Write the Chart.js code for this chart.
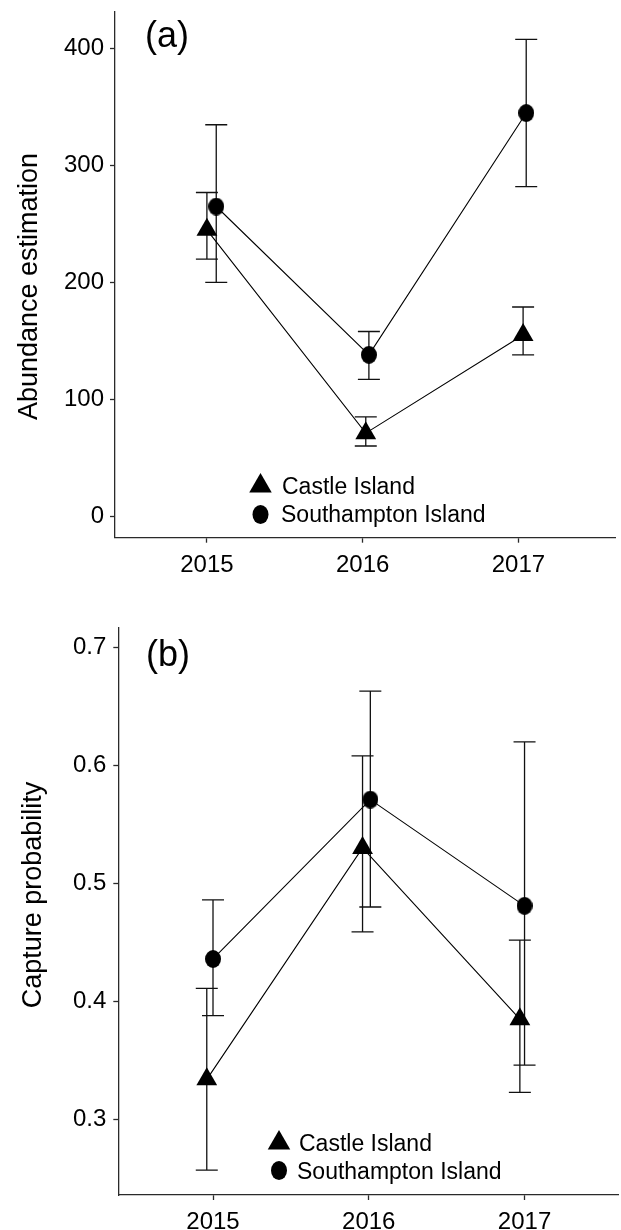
<!DOCTYPE html>
<html><head><meta charset="utf-8">
<script src="https://cdn.jsdelivr.net/npm/chart.js@4/dist/chart.umd.min.js"></script>
<style>
html,body{margin:0;padding:0;background:#fff;overflow:hidden;width:621px;height:1230px;position:relative;}
#wa{position:absolute;left:0;top:0;width:630px;height:600px;}
#wb{position:absolute;left:0;top:600px;width:630px;height:630px;}
</style></head><body>
<div id="wa"><canvas id="ca"></canvas></div>
<div id="wb"><canvas id="cb"></canvas></div>
<script>
// ---- data ----
const years = [2015, 2016, 2017];
const seriesNames = ['Castle Island', 'Southampton Island'];
// panel (a) abundance estimation (x = dodged year positions)
const castleAbundX = [2015.00, 2016.02, 2017.03];
const castleAbund = [245, 71, 155];
const castleAbundLow = [220, 60, 138];
const castleAbundHigh = [277, 85, 179];
const southAbundX = [2015.06, 2016.04, 2017.05];
const southAbund = [265, 138, 345];
const southAbundLow = [200, 117, 282];
const southAbundHigh = [335, 158, 408];
const abundTicks = [0, 100, 200, 300, 400];
// panel (b) capture probability
const castleCapX = [2014.96, 2015.96, 2016.97];
const castleCap = [0.334, 0.530, 0.385];
const castleCapLow = [0.257, 0.459, 0.323];
const castleCapHigh = [0.411, 0.608, 0.452];
const southCapX = [2015.00, 2016.01, 2017.00];
const southCap = [0.436, 0.571, 0.481];
const southCapLow = [0.388, 0.480, 0.346];
const southCapHigh = [0.486, 0.663, 0.620];
const capTicks = [0.3, 0.4, 0.5, 0.6, 0.7];

const FONT = "'Liberation Sans', Arial, sans-serif";
const AX = '#2a2a2a';

function ellipseImg(w, h) {
  const c = document.createElement('canvas');
  c.width = w; c.height = h;
  const g = c.getContext('2d');
  g.fillStyle = '#000';
  g.beginPath(); g.ellipse(w/2, h/2, w/2, h/2, 0, 0, Math.PI*2); g.fill();
  return c;
}
const dotImg = ellipseImg(16, 18);

function pts(xs, ys) { return xs.map((x, i) => ({x: x, y: ys[i]})); }

const errorBars = {
  id: 'errorBars',
  beforeDatasetsDraw(chart) {
    const {ctx, scales: {x, y}} = chart;
    ctx.save();
    ctx.strokeStyle = '#111'; ctx.lineWidth = 1.3;
    chart.data.datasets.forEach(ds => {
      ds.data.forEach((p, i) => {
        const px = x.getPixelForValue(p.x);
        const lo = y.getPixelForValue(ds.errLow[i]);
        const hi = y.getPixelForValue(ds.errHigh[i]);
        ctx.beginPath();
        ctx.moveTo(px, lo); ctx.lineTo(px, hi);
        ctx.moveTo(px - 11, lo); ctx.lineTo(px + 11, lo);
        ctx.moveTo(px - 11, hi); ctx.lineTo(px + 11, hi);
        ctx.stroke();
      });
    });
    ctx.restore();
  }
};

const deco = {
  id: 'deco',
  afterDraw(chart, args, o) {
    const ctx = chart.ctx;
    ctx.save();
    ctx.fillStyle = '#000';
    ctx.font = '36px ' + FONT;
    ctx.textAlign = 'left'; ctx.textBaseline = 'alphabetic';
    ctx.fillText(o.label, o.labelX, o.labelY);
    ctx.save();
    ctx.translate(o.titleX, o.titleY);
    ctx.rotate(-Math.PI/2);
    ctx.font = '27px ' + FONT;
    ctx.textAlign = 'center';
    ctx.fillText(o.title, 0, 0);
    ctx.restore();
    ctx.font = '23px ' + FONT;
    ctx.textAlign = 'left';
    chart.data.datasets.forEach((ds, i) => {
      const my = o.markerY[i], mx = o.markerX;
      ctx.beginPath();
      if (ds.pointStyle === 'triangle') {
        const r = 13;
        ctx.moveTo(mx, my - r);
        ctx.lineTo(mx + r*0.866, my + r/2);
        ctx.lineTo(mx - r*0.866, my + r/2);
        ctx.closePath();
      } else {
        ctx.ellipse(mx, my, 8, 9.5, 0, 0, Math.PI*2);
      }
      ctx.fill();
      ctx.fillText(ds.label, o.textX[i], o.textY[i]);
    });
    ctx.restore();
  }
};

function makeChart(id, cfg) {
  const tri = {
    label: seriesNames[0], data: pts(cfg.cx, cfg.cy), errLow: cfg.cl, errHigh: cfg.ch,
    pointStyle: 'triangle', pointRadius: 12, pointHoverRadius: 12,
    backgroundColor: '#000', borderColor: '#000', pointBorderWidth: 0, borderWidth: 1.1,
    showLine: true, tension: 0
  };
  const dot = {
    label: seriesNames[1], data: pts(cfg.sx, cfg.sy), errLow: cfg.sl, errHigh: cfg.sh,
    pointStyle: dotImg, pointRadius: 9, pointHoverRadius: 9,
    backgroundColor: '#000', borderColor: '#000', pointBorderWidth: 0, borderWidth: 1.1,
    showLine: true, tension: 0
  };
  return new Chart(document.getElementById(id), {
    type: 'scatter',
    data: { datasets: [tri, dot] },
    plugins: [errorBars, deco],
    options: {
      responsive: true, maintainAspectRatio: false, animation: false,
      layout: { padding: { top: cfg.padTop, right: cfg.padRight, left: 0, bottom: 0 } },
      plugins: { legend: { display: false }, tooltip: { enabled: false }, deco: cfg.deco },
      scales: {
        x: {
          type: 'linear', min: cfg.xmin, max: cfg.xmax,
          afterBuildTicks: s => { s.ticks = years.map(v => ({value: v})); },
          afterFit: s => { s.height = cfg.xh; s.paddingLeft = 0; s.paddingRight = 0; },
          ticks: { callback: v => String(v), color: '#000', font: { size: 24, family: FONT }, padding: 8, maxRotation: 0 },
          grid: { drawOnChartArea: false, drawTicks: true, tickLength: 5, color: AX, tickWidth: 1.3 },
          border: { display: true, color: AX, width: 1.3 }
        },
        y: {
          min: cfg.ymin, max: cfg.ymax,
          afterBuildTicks: s => { s.ticks = cfg.yticks.map(v => ({value: v})); },
          afterFit: s => { s.width = cfg.yw; s.paddingTop = 0; s.paddingBottom = 0; },
          ticks: { callback: cfg.yfmt, color: '#000', font: { size: 24, family: FONT }, padding: cfg.ypad },
          grid: { drawOnChartArea: false, drawTicks: true, tickLength: 5, color: AX, tickWidth: 1.3 },
          border: { display: true, color: AX, width: 1.3 }
        }
      }
    }
  });
}

makeChart('ca', {
  cx: castleAbundX, cy: castleAbund, cl: castleAbundLow, ch: castleAbundHigh,
  sx: southAbundX, sy: southAbund, sl: southAbundLow, sh: southAbundHigh,
  xmin: 2014.41, xmax: 2017.62, ymin: -18.5, ymax: 431.5, yticks: abundTicks,
  yfmt: v => String(v), ypad: 6, yw: 115, xh: 62.3, padTop: 9, padRight: 15,
  deco: { label: '(a)', labelX: 145, labelY: 47, title: 'Abundance estimation', titleX: 37, titleY: 286.5,
          markerX: 260.5, markerY: [486, 514.5], textX: [282, 281], textY: [494, 522] }
});

makeChart('cb', {
  cx: castleCapX, cy: castleCap, cl: castleCapLow, ch: castleCapHigh,
  sx: southCapX, sy: southCap, sl: southCapLow, sh: southCapHigh,
  xmin: 2014.392, xmax: 2017.6, ymin: 0.236, ymax: 0.7164, yticks: capTicks,
  yfmt: v => Number(v).toFixed(1), ypad: 7, yw: 118.3, xh: 35, padTop: 28, padRight: 6,
  deco: { label: '(b)', labelX: 146, labelY: 66, title: 'Capture probability', titleX: 41, titleY: 295,
          markerX: 279, markerY: [543, 570.5], textX: [299, 297], textY: [551, 579] }
});
</script>
</body></html>
